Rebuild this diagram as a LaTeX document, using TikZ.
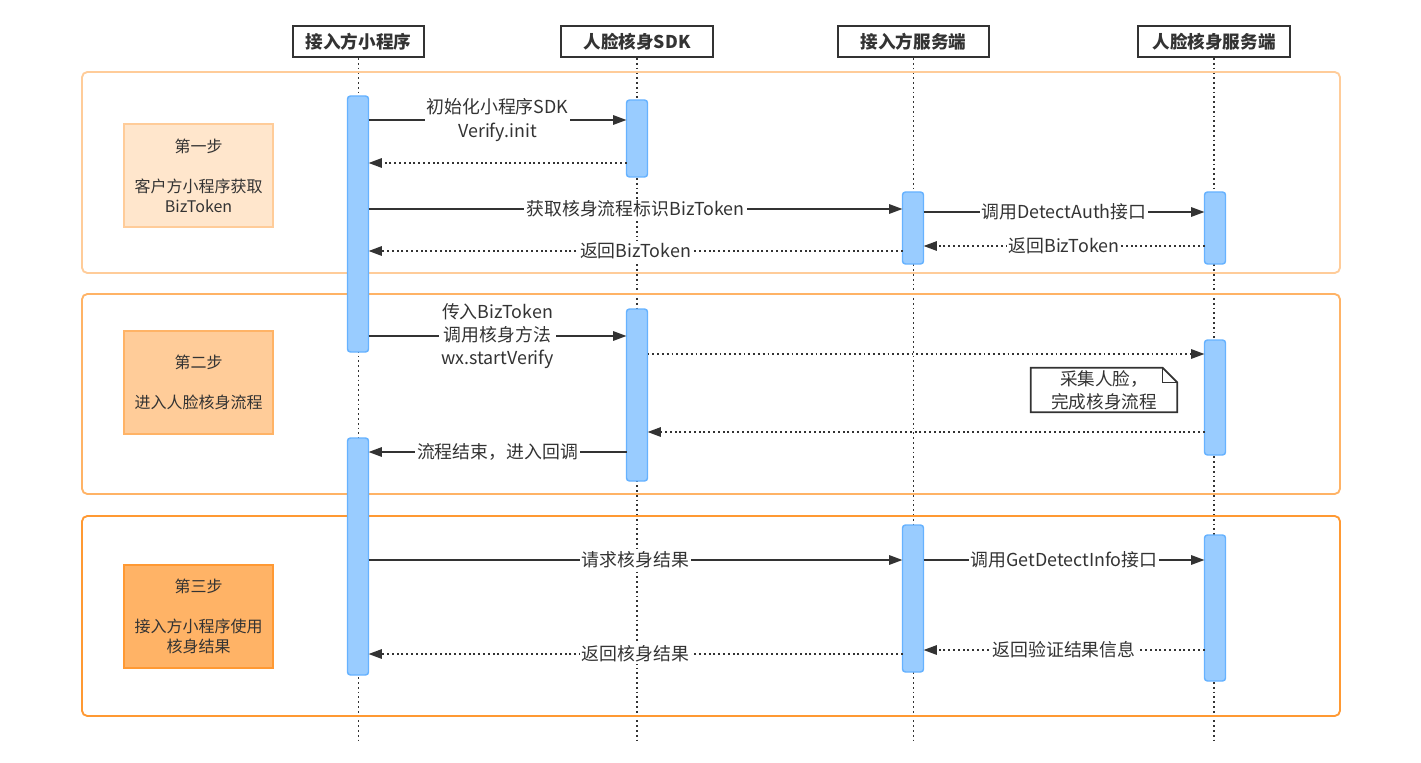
\documentclass[tikz,border=0pt]{standalone}
\usepackage{fontspec}
\setmainfont{Noto Sans CJK SC}
\usetikzlibrary{arrows.meta}

\definecolor{ink}{HTML}{333333}
\definecolor{barfill}{HTML}{99CCFF}
\definecolor{barline}{HTML}{66B2FF}
\definecolor{orangeA}{HTML}{FFE6CC}
\definecolor{orangeB}{HTML}{FFCC99}
\definecolor{orangeC}{HTML}{FFB366}
\definecolor{orangeD}{HTML}{FF9933}

\begin{document}
\begin{tikzpicture}
[x=0.75pt,y=-0.75pt,%
  every node/.style={text=ink},%
  head/.style={draw=ink,line width=1.5pt,minimum height=23.25pt,inner sep=0pt,
    font=\fontsize{13.2}{15}\selectfont\bfseries},%
  lifeline/.style={draw=ink,line width=1.4pt,dash pattern=on 1.4pt off 2.2pt},%
  frame/.style={line width=1.4pt,rounded corners=4pt},%
  stepbox/.style={line width=1.3pt,minimum width=111.75pt,minimum height=77.25pt,
    align=center,font=\fontsize{12}{15}\selectfont},%
  bar/.style={draw=barline,fill=barfill,line width=1.1pt,rounded corners=2.25pt,
    minimum width=15.75pt,inner sep=0pt,outer sep=0pt},%
  call/.style={draw=ink,line width=1.4pt,-{Triangle[length=10pt,width=7pt]}},%
  reply/.style={call,dash pattern=on 1.4pt off 2.2pt},%
  lbl/.style={fill=white,inner sep=1.5pt,align=center,font=\fontsize{13.4}{17.5}\selectfont},%
  notebox/.style={draw=ink,line width=1.2pt,line join=miter}]
\useasboundingbox (0,0) rectangle (1421,763);
%% participants
\node[head,minimum width=98.25pt] (h1) at (358.5,41.5) {接入方小程序};
\node[head,minimum width=114pt] (h2) at (637,41.5) {人脸核身SDK};
\node[head,minimum width=113.25pt] (h3) at (913.5,41.5) {接入方服务端};
\node[head,minimum width=114pt] (h4) at (1214,41.5) {人脸核身服务端};
\foreach \h in {h1,h2,h3,h4}
  \draw[lifeline] (\h.south) -- (\h.south |- 0,740);
%% stages
\draw[frame,draw=orangeB] (82,72) rectangle (1340,273);
\draw[frame,draw=orangeC] (82,294) rectangle (1340,494);
\draw[frame,draw=orangeD] (82,516) rectangle (1340,716);
\node[stepbox,fill=orangeA,draw=orangeB] (s1) at (198.5,175.5)
  {第一步\\[15pt]客户方小程序获取\\BizToken};
\node[stepbox,fill=orangeB,draw=orangeC] (s2) at (198.5,382.5)
  {第二步\\[15pt]进入人脸核身流程};
\node[stepbox,fill=orangeC,draw=orangeD] (s3) at (198.5,616.5)
  {第三步\\[15pt]接入方小程序使用\\核身结果};
%% activations
\foreach \bar/\x/\t/\b in {a1/358/96/352, a2/358/438/675, b1/637/100/177,
  b2/637/309/481, c1/913/192/264, c2/913/525/672, d1/1215/192/264,
  d2/1215/340/455, d3/1215/535/681}
  \node[bar,minimum height={(\b-\t)*0.75pt}] (\bar) at (\x,{(\t+\b)/2}) {};
%% messages
\path
\foreach \from/\to/\y/\txt in {a1.east/b1.west/120/{初始化小程序SDK\\Verify.init},
  a1.east/c1.west/209/{获取核身流程标识BizToken},
  c1.east/d1.west/212/{调用DetectAuth接口},
  a1.east/b2.west/336/{传入BizToken\\调用核身方法\\wx.startVerify},
  b2.west/a2.east/452/{流程结束，进入回调},
  a2.east/c2.west/560/{请求核身结果},
  c2.east/d3.west/560/{调用GetDetectInfo接口}}
{
  (\from |- 0,\y) edge[call] node[lbl] {\txt} (\to |- 0,\y)
};
\path
\foreach \from/\to/\y/\txt in {d1.west/c1.east/246/{返回BizToken},
  c1.west/a1.east/251/{返回BizToken},
  d3.west/c2.east/650/{返回验证结果信息},
  c2.west/a2.east/654/{返回核身结果}}
{
  (\from |- 0,\y) edge[reply] node[lbl] {\txt} (\to |- 0,\y)
};
\path
\foreach \from/\to/\y in {b1.west/a1.east/163, b2.east/d2.west/354, d2.west/b2.east/432}
{
  (\from |- 0,\y) edge[reply] (\to |- 0,\y)
};
%% note
\node[fill=white,minimum width=109.5pt,minimum height=33pt,inner sep=0pt,align=center,
  font=\fontsize{13.2}{17.5}\selectfont] (note) at (1104,390) {采集人脸，\\完成核身流程};
\draw[notebox] (note.north west) -- ([xshift=-11pt]note.north east)
  -- ([yshift=-11pt]note.north east) -- (note.south east) -- (note.south west) -- cycle;
\draw[notebox] ([xshift=-11pt]note.north east) -- ([xshift=-11pt,yshift=-11pt]note.north east)
  -- ([yshift=-11pt]note.north east);
\end{tikzpicture}
\end{document}
